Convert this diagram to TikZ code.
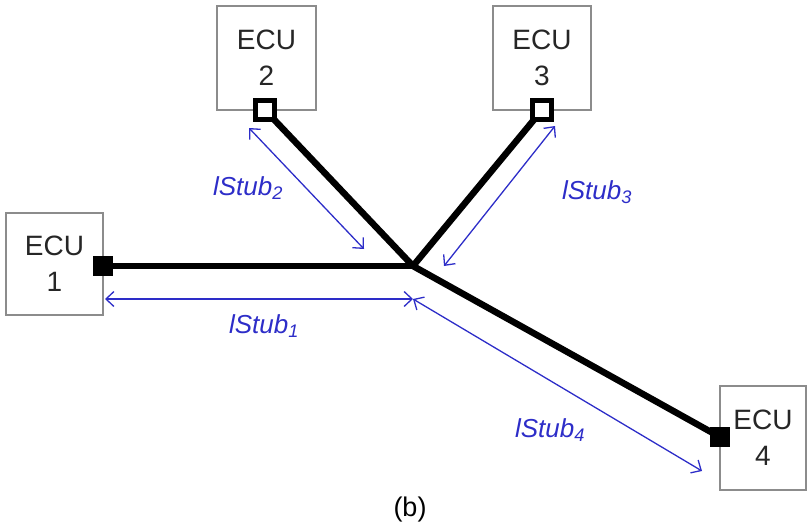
\documentclass[tikz,border=0pt]{standalone}
\usepackage{fontspec}
\setmainfont{Liberation Sans}
\usetikzlibrary{arrows.meta}

\definecolor{dimblue}{RGB}{45,45,200}
\definecolor{boxgray}{RGB}{140,140,140}

\tikzset{
  ecu/.style={draw=boxgray, line width=1.2pt, align=center, inner sep=0pt,
    font=\fontsize{28}{36}\selectfont, text=black!85},
  term/.style={draw=black, line width=4.5pt, minimum size=19pt, inner sep=0pt},
  stub/.style={line width=6.5pt, black},
  len/.style={dimblue, line width=1.3pt, {Straight Barb[length=8pt,width=15pt]}-{Straight Barb[length=8pt,width=15pt]}},
  lenlabel/.style={dimblue, font=\fontsize{26}{28}\selectfont\itshape}
}

\begin{document}
\begin{tikzpicture}[x=1pt,y=-1pt]
\useasboundingbox (0,0) rectangle (809,530);

% ECU boxes
\node[ecu, minimum width=97pt, minimum height=102pt] (ecu1) at (54.5,264) {ECU\\1};
\node[ecu, minimum width=99pt, minimum height=104pt] (ecu2) at (266.5,58) {ECU\\2};
\node[ecu, minimum width=98pt, minimum height=104pt] (ecu3) at (542,58) {ECU\\3};
\node[ecu, minimum width=86pt, minimum height=104pt] (ecu4) at (763,438) {ECU\\4};

% bus stubs
\coordinate (junc) at (413,266);
\coordinate (p1) at (103,266);
\coordinate (p2) at (265,110);
\coordinate (p3) at (542,110);
\coordinate (p4) at (720,437);
\draw[stub] (p1) -- (junc);
\draw[stub] (p2) -- (junc);
\draw[stub] (p3) -- (junc);
\draw[stub] (p4) -- (junc);

% terminals
\node[term, fill=black, minimum size=16pt] (t1) at (p1) {};
\node[term, fill=white] (t2) at (p2) {};
\node[term, fill=white] (t3) at (p3) {};
\node[term, fill=black, minimum size=16pt] (t4) at (p4) {};

% stub lengths
\coordinate (s1a) at (105,299);
\coordinate (s1b) at (413,299);
\coordinate (s2a) at (249,128);
\coordinate (s2b) at (364,249);
\coordinate (s3a) at (555,126);
\coordinate (s3b) at (444,266);
\coordinate (s4a) at (413,299);
\coordinate (s4b) at (702,471);
\draw[len] (s1a) -- (s1b);
\draw[len] (s2a) -- (s2b);
\draw[len] (s3a) -- (s3b);
\draw[len] (s4a) -- (s4b);

\node[lenlabel] (l1) at (264,326) {lStub\textsubscript{1}};
\node[lenlabel] (l2) at (248,188) {lStub\textsubscript{2}};
\node[lenlabel] (l3) at (597,192) {lStub\textsubscript{3}};
\node[lenlabel] (l4) at (550,430) {lStub\textsubscript{4}};

\node[font=\fontsize{27}{30}\selectfont] (cap) at (410,510) {(b)};
\end{tikzpicture}
\end{document}
